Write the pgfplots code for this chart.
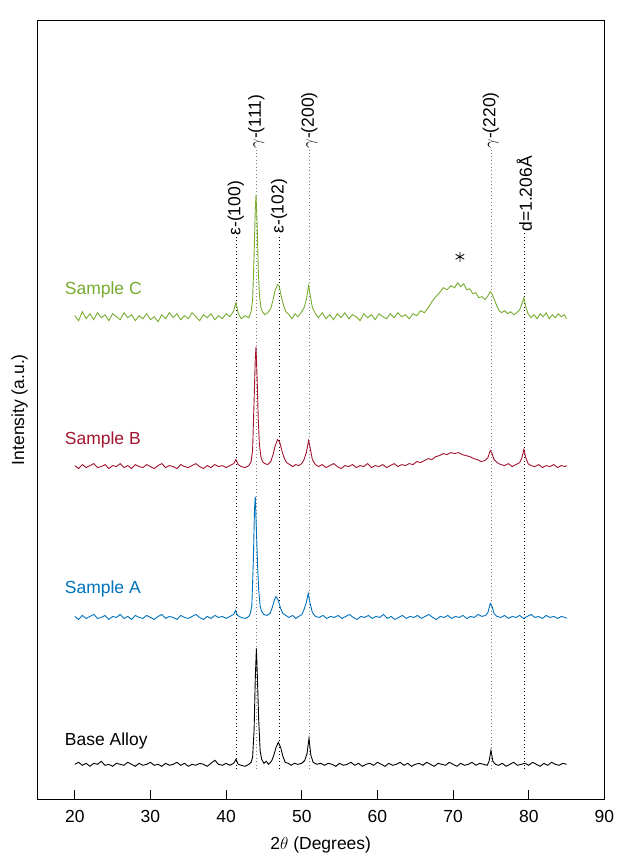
\documentclass[border=0pt]{standalone}
\usepackage{pgfplots}
\pgfplotsset{compat=1.18}
\usepackage{fontspec}
\setmainfont{Liberation Sans}
\definecolor{cA}{RGB}{0,114,189}
\definecolor{cB}{RGB}{162,20,47}
\definecolor{cC}{RGB}{119,172,48}
\begin{document}
\fontsize{17.5}{21}\selectfont
\begin{tikzpicture}
\begin{axis}[
  scale only axis, width=568pt, height=780pt,
  xmin=15, xmax=90, ymin=0, ymax=780,
  xtick={20,30,...,90}, ytick=\empty,
  xtick pos=left, tick align=inside, major tick length=9pt,
  /pgf/number format/assume math mode=true,
  axis line style={line width=0.8pt}, every tick/.style={line width=0.8pt, black},
  xticklabel style={yshift=-5pt},
  xlabel={2$\theta$ (Degrees)},
  ylabel={Intensity (a.u.)},
  ylabel style={at={([xshift=-9pt]rel axis cs:0,0.5)}, anchor=south, inner sep=0pt},
  xlabel style={inner sep=0pt, yshift=-8pt},
  clip=false,
  tr/.style={mark=none, line width=0.9pt},
  rl/.style={mark=none, line width=0.8pt, dash pattern=on 1pt off 2.5pt},
]
\path ([xshift=-37pt]rel axis cs:0,0.5) ([xshift=10pt]rel axis cs:1,0.5) ([yshift=20pt]rel axis cs:0.5,1);
% reference lines
\addplot[rl, gray] coordinates {(44.0,30) (44.0,650)};
\addplot[rl, gray] coordinates {(51.0,30) (51.0,650)};
\addplot[rl, gray] coordinates {(75.0,30) (75.0,650)};
\addplot[rl, black] coordinates {(41.3,30) (41.3,563)};
\addplot[rl, black] coordinates {(47.0,30) (47.0,565)};
\addplot[rl, black] coordinates {(79.4,30) (79.4,567)};
\node[rotate=90, anchor=west, inner sep=1pt] at (axis cs:41.3,563) {ε-(100)};
\node[rotate=90, anchor=west, inner sep=1pt] at (axis cs:44.0,650) {$\gamma$-(111)};
\node[rotate=90, anchor=west, inner sep=1pt] at (axis cs:47.0,565) {ε-(102)};
\node[rotate=90, anchor=west, inner sep=1pt] at (axis cs:51.0,650) {$\gamma$-(200)};
\node[rotate=90, anchor=west, inner sep=1pt] at (axis cs:75.0,650) {$\gamma$-(220)};
\node[rotate=90, anchor=west, inner sep=1pt] at (axis cs:79.4,567) {d=1.206Å};
% Base alloy
\addplot[tr, black] coordinates {
(20,35) (20.5,37) (21,34) (21.5,36) (22,33) (22.5,36) (23,35) (23.5,38) (24,34) (24.5,35)
(25,33) (25.5,36) (26,35) (26.5,34) (27,37) (27.5,35) (28,33) (28.5,36) (29,34) (29.5,35)
(30,37) (30.5,34) (31,35) (31.5,33) (32,36) (32.5,34) (33,35) (33.5,37) (34,34) (34.5,36)
(35,33) (35.5,35) (36,34) (36.5,36) (37,35) (37.5,33) (38,36) (38.5,39) (39,35) (39.5,34)
(40,36) (40.5,34) (41,36) (41.3,40) (41.6,35) (42,34) (42.5,33) (43,35) (43.3,37) (43.5,42)
(43.7,70) (43.85,120) (44,151) (44.15,118) (44.3,80) (44.5,48) (44.7,40) (45,36) (45.3,38) (45.6,35)
(46,38) (46.3,44) (46.6,52) (46.9,57) (47.2,52) (47.5,43) (47.8,37) (48.2,36) (48.6,34) (49,36)
(49.5,35) (50,36) (50.4,39) (50.7,46) (50.95,61) (51.2,44) (51.5,37) (52,35) (52.5,36) (53,34)
(53.5,36) (54,35) (54.5,33) (55,36) (55.5,34) (56,35) (56.5,37) (57,34) (57.5,36) (58,33)
(58.5,35) (59,36) (59.5,34) (60,37) (60.5,35) (61,33) (61.5,36) (62,34) (62.5,35) (63,37)
(63.5,34) (64,36) (64.5,33) (65,35) (65.5,36) (66,34) (66.5,37) (67,35) (67.5,33) (68,36)
(68.5,35) (69,34) (69.5,37) (70,35) (70.5,33) (71,36) (71.5,34) (72,35) (72.5,37) (73,34)
(73.5,36) (74,35) (74.5,34) (74.75,38) (75,49) (75.25,38) (75.6,35) (76,34) (76.5,36) (77,33)
(77.5,35) (78,37) (78.5,34) (79,35) (79.5,36) (80,34) (80.5,37) (81,35) (81.5,33) (82,36)
(82.5,34) (83,37) (83.5,35) (84,34) (84.5,36) (85,35)};
% Sample A
\addplot[tr, cA] coordinates {
(20,183) (20.5,180) (21,184) (21.5,181) (22,183) (22.5,185) (23,181) (23.5,182) (24,184) (24.5,180)
(25,183) (25.5,182) (26,185) (26.5,181) (27,183) (27.5,180) (28,184) (28.5,182) (29,181) (29.5,184)
(30,182) (30.5,180) (31,183) (31.5,185) (32,181) (32.5,183) (33,182) (33.5,180) (34,184) (34.5,182)
(35,181) (35.5,183) (36,185) (36.5,182) (37,180) (37.5,183) (38,181) (38.5,184) (39,182) (39.5,183)
(40,181) (40.5,183) (41,185) (41.25,189) (41.5,184) (42,182) (42.5,181) (43,183) (43.2,186) (43.4,194)
(43.6,240) (43.75,290) (43.85,303) (44.0,270) (44.15,235) (44.3,210) (44.5,193) (44.7,188) (45,185) (45.4,184)
(45.8,186) (46.1,192) (46.4,200) (46.6,203) (46.9,199) (47.2,191) (47.5,186) (47.9,184) (48.3,182) (48.8,184)
(49.2,181) (49.6,183) (50,185) (50.3,190) (50.6,197) (50.85,206) (51.1,196) (51.4,187) (51.8,183) (52.3,182)
(52.8,184) (53.3,181) (53.8,183) (54.3,182) (54.8,184) (55.3,181) (55.8,183) (56.3,185) (56.8,182) (57.3,180)
(57.8,183) (58.3,182) (58.8,184) (59.3,181) (59.8,183) (60.3,182) (60.8,185) (61.3,181) (61.8,183) (62.3,180)
(62.8,182) (63.3,184) (63.8,181) (64.3,183) (64.8,182) (65.3,184) (65.8,181) (66.3,183) (66.8,185) (67.3,182)
(67.8,180) (68.3,183) (68.8,182) (69.3,184) (69.8,181) (70.3,183) (70.8,182) (71.3,184) (71.8,181) (72.3,183)
(72.8,182) (73.3,185) (73.8,183) (74.3,184) (74.6,187) (74.9,196) (75.15,193) (75.4,186) (75.8,183) (76.3,182)
(76.8,184) (77.3,181) (77.8,183) (78.3,182) (78.8,184) (79.3,181) (79.8,183) (80.3,185) (80.8,182) (81.3,183)
(81.8,181) (82.3,184) (82.8,182) (83.3,183) (83.8,181) (84.3,183) (84.8,182) (85,181)};
% Sample B
\addplot[tr, cB] coordinates {
(20,334) (20.5,331) (21,335) (21.5,332) (22,334) (22.5,336) (23,332) (23.5,333) (24,335) (24.5,331)
(25,334) (25.5,333) (26,336) (26.5,332) (27,334) (27.5,331) (28,335) (28.5,333) (29,332) (29.5,335)
(30,333) (30.5,331) (31,334) (31.5,336) (32,332) (32.5,334) (33,333) (33.5,331) (34,335) (34.5,333)
(35,332) (35.5,334) (36,336) (36.5,333) (37,331) (37.5,334) (38,332) (38.5,335) (39,333) (39.5,334)
(40,332) (40.5,334) (41,336) (41.3,340) (41.6,335) (42,333) (42.5,332) (43,334) (43.3,338) (43.5,350)
(43.7,400) (43.85,440) (43.95,453) (44.1,420) (44.25,380) (44.4,355) (44.6,343) (44.8,338) (45.1,336) (45.5,335)
(45.9,338) (46.2,345) (46.5,354) (46.8,360) (47.1,357) (47.4,348) (47.7,341) (48,337) (48.4,335) (48.8,333)
(49.2,335) (49.6,334) (50,336) (50.3,340) (50.6,347) (50.9,359) (51.15,350) (51.4,340) (51.8,335) (52.2,333)
(52.7,335) (53.2,332) (53.7,334) (54.2,336) (54.7,333) (55.2,331) (55.7,334) (56.2,333) (56.7,335) (57.2,332)
(57.7,334) (58.2,333) (58.7,336) (59.2,332) (59.7,334) (60.2,333) (60.7,335) (61.2,332) (61.7,334) (62.2,336)
(62.7,333) (63.2,335) (63.7,334) (64.2,336) (64.7,335) (65.2,338) (65.7,337) (66.2,339) (66.7,341) (67.2,340)
(67.7,343) (68.2,344) (68.7,346) (69.2,345) (69.7,347) (70.2,346) (70.7,347) (71.2,345) (71.7,344) (72.2,343)
(72.7,341) (73.2,340) (73.7,338) (74.2,339) (74.6,342) (74.9,349) (75.15,346) (75.4,340) (75.8,337) (76.3,335)
(76.8,334) (77.3,336) (77.8,333) (78.3,335) (78.8,337) (79.1,342) (79.35,350) (79.6,342) (79.9,336) (80.3,334)
(80.8,333) (81.3,335) (81.8,332) (82.3,334) (82.8,333) (83.3,335) (83.8,332) (84.3,334) (84.8,333) (85,334)};
% Sample C
\addplot[tr, cC] coordinates {
(20,484) (20.5,479) (21,488) (21.5,481) (22,486) (22.5,480) (23,487) (23.5,482) (24,485) (24.5,479)
(25,486) (25.5,483) (26,480) (26.5,487) (27,482) (27.5,485) (28,479) (28.5,484) (29,481) (29.5,486)
(30,480) (30.5,483) (31,478) (31.5,485) (32,481) (32.5,487) (33,482) (33.5,486) (34,480) (34.5,484)
(35,481) (35.5,487) (36,483) (36.5,479) (37,485) (37.5,482) (38,486) (38.5,480) (39,484) (39.5,481)
(40,486) (40.5,483) (41,489) (41.3,497) (41.6,486) (42,481) (42.5,484) (43,482) (43.3,488) (43.5,500)
(43.7,545) (43.85,590) (43.95,605) (44.1,575) (44.25,530) (44.4,505) (44.6,492) (44.8,488) (45.1,485) (45.5,487)
(45.9,491) (46.2,500) (46.5,510) (46.8,515) (47.0,514) (47.3,503) (47.6,494) (47.9,488) (48.3,485) (48.7,481)
(49.1,486) (49.5,483) (49.9,487) (50.3,492) (50.6,500) (50.9,514) (51.15,503) (51.4,492) (51.8,486) (52.2,482)
(52.7,487) (53.2,481) (53.7,485) (54.2,480) (54.7,486) (55.2,482) (55.7,487) (56.2,481) (56.7,485) (57.2,483)
(57.7,479) (58.2,486) (58.7,482) (59.2,485) (59.7,480) (60.2,486) (60.7,483) (61.2,481) (61.7,486) (62.2,482)
(62.7,487) (63.2,483) (63.7,485) (64.2,481) (64.7,486) (65.2,484) (65.7,489) (66.2,487) (66.7,492) (67.2,498)
(67.7,503) (68.2,507) (68.7,512) (69.2,510) (69.7,514) (70.2,512) (70.6,517) (71.0,513) (71.4,516) (71.8,510)
(72.2,511) (72.6,506) (73.0,507) (73.4,502) (73.8,503) (74.2,500) (74.6,504) (74.9,508) (75.2,505) (75.6,497)
(76.0,490) (76.4,487) (76.8,489) (77.2,486) (77.6,488) (78,485) (78.4,487) (78.8,490) (79.1,496) (79.35,502)
(79.6,493) (79.9,486) (80.3,482) (80.7,485) (81.1,481) (81.5,486) (81.9,483) (82.3,487) (82.7,481) (83.1,485)
(83.5,482) (83.9,486) (84.3,483) (84.7,485) (85,481)};
% star marker
\addplot[black, only marks, mark=asterisk, mark size=5pt, mark options={line width=0.8pt, black}] coordinates {(70.9,543)};
% sample labels
\node[anchor=west, text=cC] at (axis cs:17.9,510) {Sample C};
\node[anchor=west, text=cB] at (axis cs:17.9,360) {Sample B};
\node[anchor=west, text=cA] at (axis cs:17.9,210) {Sample A};
\node[anchor=west, text=black] at (axis cs:17.9,58) {Base Alloy};
\end{axis}
\end{tikzpicture}
\end{document}
